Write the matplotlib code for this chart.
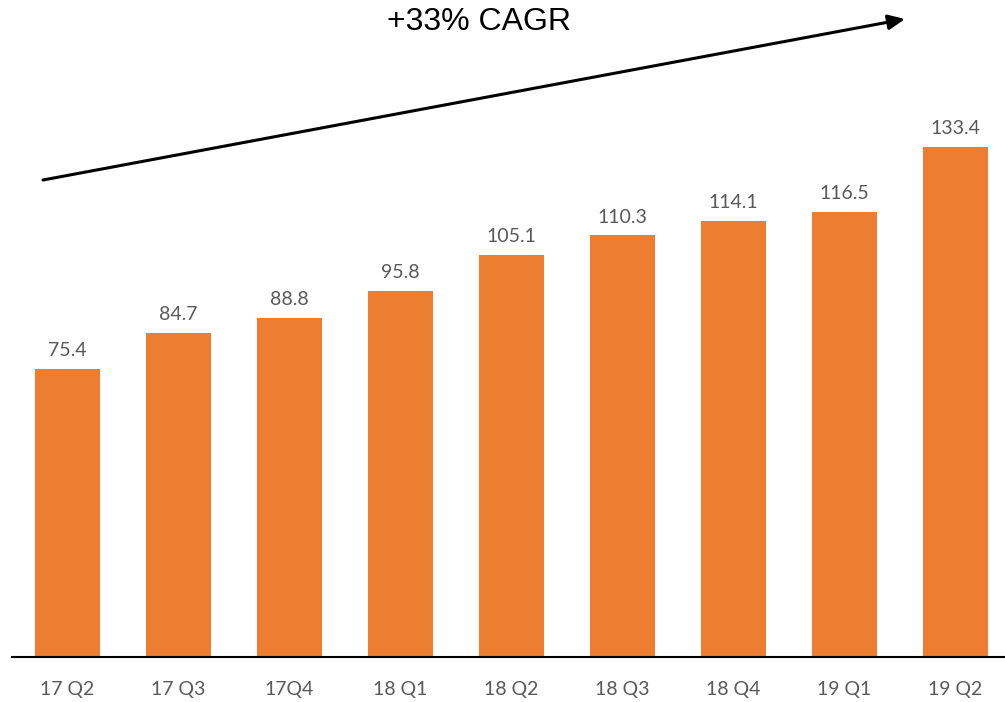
import matplotlib
matplotlib.use("Agg")
import matplotlib.pyplot as plt

quarters = ["17 Q2", "17 Q3", "17Q4", "18 Q1", "18 Q2", "18 Q3", "18 Q4", "19 Q1", "19 Q2"]
values = [75.4, 84.7, 88.8, 95.8, 105.1, 110.3, 114.1, 116.5, 133.4]
headline = "+33% CAGR"

W, H = 1005, 702
fig = plt.figure(figsize=(W / 100, H / 100), dpi=100)
ax = fig.add_axes([12 / W, 45 / H, 993 / W, 657 / H])

x = list(range(len(values)))
bars = ax.bar(x, values, width=0.59, color="#ED7D31", zorder=2)
ax.bar_label(bars, labels=[f"{v:.1f}" for v in values], padding=7,
             fontsize=14, color="#595959", family=["Lato", "DejaVu Sans"])

ax.set_xlim(-0.5, 8.446)
ax.set_ylim(0, 171.85)
ax.set_xticks(x)
ax.set_xticklabels(quarters, fontsize=14, color="#595959", family=["Lato", "DejaVu Sans"])
ax.tick_params(axis="x", length=0, pad=17)
ax.set_yticks([])
for side in ("top", "right", "left"):
    ax.spines[side].set_visible(False)
ax.spines["bottom"].set_color("black")
ax.spines["bottom"].set_linewidth(1.5)

# growth arrow and headline, placed in figure pixel space
ax.annotate("", xy=(905 / W, 1 - 19 / H), xytext=(43 / W, 1 - 180 / H),
            xycoords="figure fraction", textcoords="figure fraction",
            annotation_clip=False,
            arrowprops=dict(arrowstyle="-|>,head_length=1.0,head_width=0.45",
                            color="black", lw=2.2, shrinkA=0, shrinkB=0))
fig.text(479 / W, 1 - 22 / H, headline, ha="center", va="center",
         fontsize=23, family=["Liberation Sans", "DejaVu Sans"], color="black")

fig.savefig("out.png", dpi=100)
